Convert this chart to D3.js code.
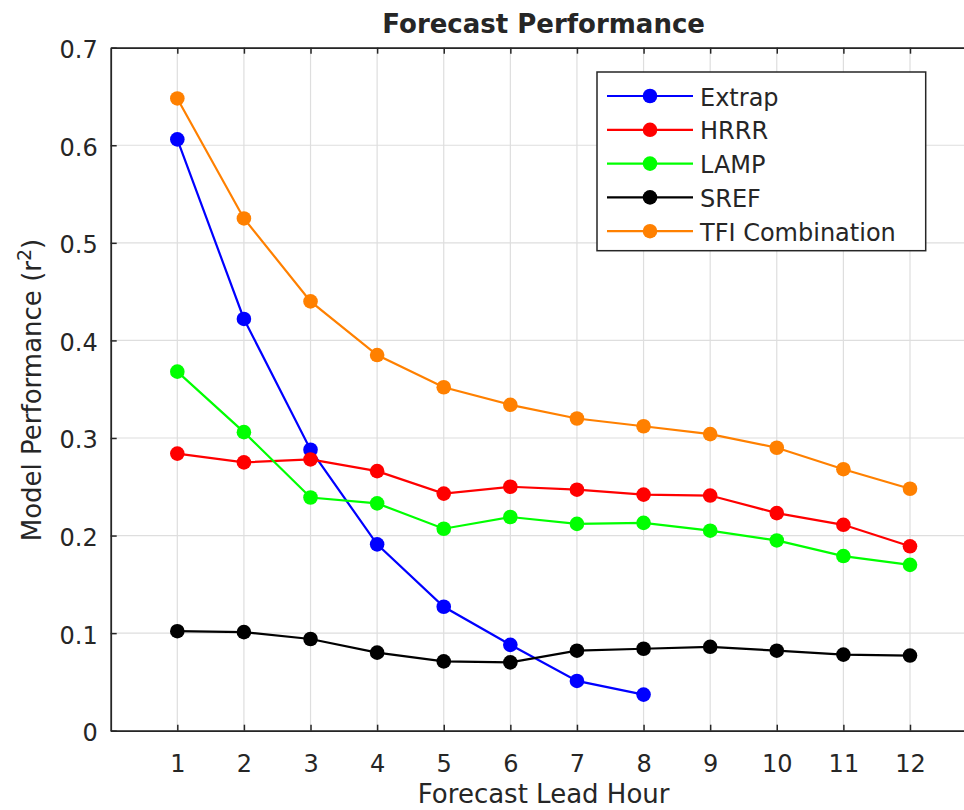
<!DOCTYPE html>
<html>
<head>
<meta charset="utf-8">
<script src="https://cdn.jsdelivr.net/npm/d3@7"></script>
<style>
  html, body { margin: 0; padding: 0; background: #fff; }
  svg { display: block; }
  text { font-family: "DejaVu Sans", sans-serif; fill: #262626; }
</style>
</head>
<body>
<svg id="chart" width="964" height="810"></svg>
<script>
// ---- data ----
const hours = [1, 2, 3, 4, 5, 6, 7, 8, 9, 10, 11, 12];
const extrap = [0.606, 0.422, 0.288, 0.191, 0.127, 0.088, 0.051, 0.037];
const hrrr = [0.284, 0.275, 0.278, 0.266, 0.243, 0.250, 0.247, 0.242, 0.241, 0.223, 0.211, 0.189];
const lamp = [0.368, 0.306, 0.239, 0.233, 0.207, 0.219, 0.212, 0.213, 0.205, 0.195, 0.179, 0.170];
const sref = [0.102, 0.101, 0.094, 0.080, 0.071, 0.070, 0.082, 0.084, 0.086, 0.082, 0.078, 0.077];
const tfi = [0.648, 0.525, 0.440, 0.385, 0.352, 0.334, 0.320, 0.312, 0.304, 0.290, 0.268, 0.248];
const seriesNames = ["Extrap", "HRRR", "LAMP", "SREF", "TFI Combination"];
const seriesValues = [extrap, hrrr, lamp, sref, tfi];
const seriesColors = ["#0000ff", "#ff0000", "#00ff00", "#000000", "#ff8000"];
const xTicks = [1, 2, 3, 4, 5, 6, 7, 8, 9, 10, 11, 12];
const yTicks = [0, 0.1, 0.2, 0.3, 0.4, 0.5, 0.6, 0.7];
const titleText = "Forecast Performance";
const xLabel = "Forecast Lead Hour";
const yLabelMain = "Model Performance (r";
const yLabelSup = "2";
const yLabelEnd = ")";

// ---- layout ----
const svg = d3.select("#chart");
const L = 110.7, R = 976.6, T = 47.7, B = 730.7;
const x = d3.scaleLinear().domain([0, 13]).range([L, R]);
const y = d3.scaleLinear().domain([0, 0.7]).range([B, T]);
const axisColor = "#262626";

// grid
const grid = svg.append("g");
grid.selectAll("line.gx").data(xTicks).enter().append("line")
  .attr("x1", d => x(d)).attr("x2", d => x(d)).attr("y1", T).attr("y2", B)
  .attr("stroke", "#dedede").attr("stroke-width", 1.2);
grid.selectAll("line.gy").data(yTicks).enter().append("line")
  .attr("x1", L).attr("x2", R).attr("y1", d => y(d)).attr("y2", d => y(d))
  .attr("stroke", "#dedede").attr("stroke-width", 1.2);

// series
const lineGen = d3.line().x((d, i) => x(hours[i])).y(d => y(d));
seriesValues.forEach((vals, si) => {
  const g = svg.append("g");
  g.append("path").datum(vals).attr("d", lineGen)
    .attr("fill", "none").attr("stroke", seriesColors[si]).attr("stroke-width", 2.2);
  g.selectAll("circle").data(vals).enter().append("circle")
    .attr("cx", (d, i) => x(hours[i])).attr("cy", d => y(d)).attr("r", 7.3)
    .attr("fill", seriesColors[si]);
});

// axes
function styleAxis(g) {
  g.selectAll("path.domain").attr("stroke", axisColor).attr("stroke-width", 1.8);
  g.selectAll(".tick line").attr("stroke", axisColor).attr("stroke-width", 1.5);
  g.selectAll("text").attr("fill", "#333").style("font-family", "DejaVu Sans")
    .attr("font-size", 24);
}
const xAxis = svg.append("g").attr("transform", `translate(0,${B})`)
  .call(d3.axisBottom(x).tickValues(xTicks).tickSizeInner(-6).tickSizeOuter(0).tickPadding(25))
  .call(styleAxis);
xAxis.selectAll(".tick text").attr("dy", null).attr("y", 41);

const xTop = svg.append("g").attr("transform", `translate(0,${T})`)
  .call(d3.axisTop(x).tickValues(xTicks).tickSizeInner(-6).tickSizeOuter(0).tickFormat(""))
  .call(styleAxis);

const yAxis = svg.append("g").attr("transform", `translate(${L},0)`)
  .call(d3.axisLeft(y).tickValues(yTicks).tickSizeInner(-6).tickSizeOuter(0)
    .tickFormat(d => d === 0 ? "0" : d3.format(".1f")(d)))
  .call(styleAxis);
yAxis.selectAll(".tick text").attr("x", -13).attr("dy", null).attr("y", 10);

// title
svg.append("text").attr("x", (L + R) / 2).attr("y", 33).attr("text-anchor", "middle")
  .attr("font-size", 26).attr("font-weight", "bold").attr("fill", "#000").text(titleText);

// x label
svg.append("text").attr("x", (L + R) / 2).attr("y", 803).attr("text-anchor", "middle")
  .attr("font-size", 26).attr("fill", "#333").text(xLabel);

// y label
const yl = svg.append("text").attr("transform", "translate(41,390) rotate(-90)")
  .attr("text-anchor", "middle").attr("font-size", 26).attr("fill", "#333");
yl.append("tspan").text(yLabelMain);
yl.append("tspan").attr("dy", -10).attr("font-size", 19).text(yLabelSup);
yl.append("tspan").attr("dy", 10).text(yLabelEnd);

// legend
const lg = svg.append("g");
const lgLeft = 597, lgTop = 72, lgRight = 925.7, lgBottom = 250.7;
lg.append("rect").attr("x", lgLeft).attr("y", lgTop)
  .attr("width", lgRight - lgLeft).attr("height", lgBottom - lgTop)
  .attr("fill", "#fff").attr("stroke", axisColor).attr("stroke-width", 1.5);
seriesNames.forEach((name, i) => {
  const cy = 96 + i * 33.8;
  lg.append("line").attr("x1", 607).attr("x2", 693).attr("y1", cy).attr("y2", cy)
    .attr("stroke", seriesColors[i]).attr("stroke-width", 2.2);
  lg.append("circle").attr("cx", 650).attr("cy", cy).attr("r", 7.3).attr("fill", seriesColors[i]);
  lg.append("text").attr("x", 700).attr("y", cy + 9.5).attr("font-size", 24).attr("fill", "#333").text(name);
});
</script>
</body>
</html>
